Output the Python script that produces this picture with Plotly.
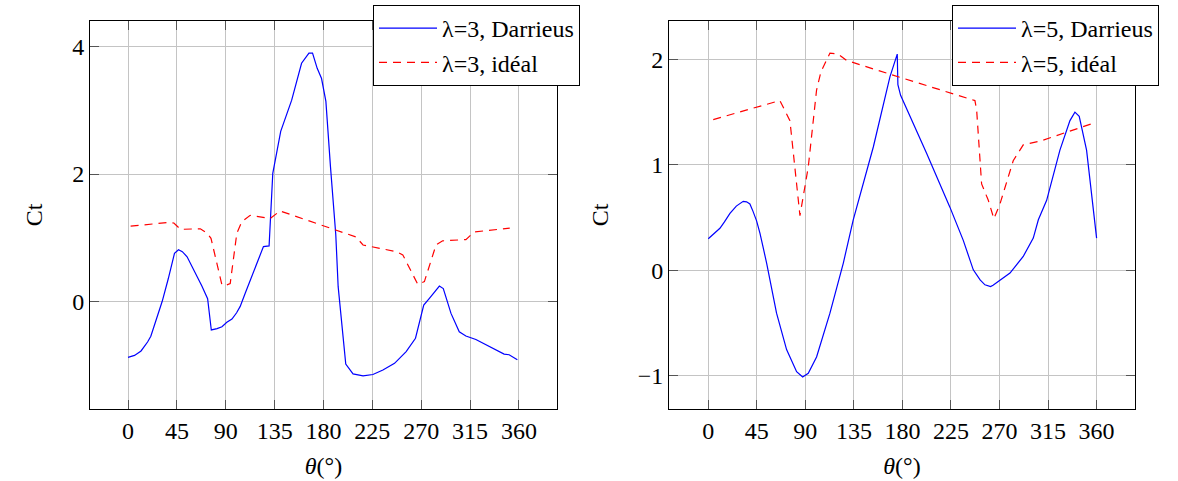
import plotly.graph_objects as go

# ---------------- data ----------------
theta_d3 = [0, 6, 12, 18, 21, 26, 31.5, 37, 42.8, 46.5, 50, 54.4, 59, 63.6, 68, 73.3, 76.7, 82, 86.5,
            91, 95.7, 100, 103.3, 108, 112.5, 118, 124.7, 129.9, 133.3, 140.6, 150.7, 159.8, 166.6,
            169.9, 174.2, 178.2, 182.2, 186.4, 191.3, 193.5, 200.5, 207.2, 216.4, 225.5, 234.7, 245.4,
            256.1, 264.7, 271.4, 272.3, 277.5, 286.7, 290.3, 297.4, 305, 311.1, 320.3, 332.5, 346.3,
            350.9, 358.5]
ct_d3 = [-0.88, -0.85, -0.78, -0.64, -0.55, -0.30, 0.0, 0.35, 0.754, 0.81, 0.78, 0.70, 0.55, 0.39,
         0.24, 0.04, -0.45, -0.43, -0.40, -0.33, -0.28, -0.18, -0.08, 0.13, 0.335, 0.58, 0.86, 0.87,
         2.01, 2.67, 3.16, 3.74, 3.90, 3.90, 3.66, 3.50, 3.14, 2.12, 1.05, 0.23, -0.985, -1.14, -1.17,
         -1.15, -1.08, -0.975, -0.79, -0.58, -0.094, -0.06, 0.047, 0.24, 0.20, -0.19, -0.48, -0.545,
         -0.60, -0.71, -0.83, -0.84, -0.92]

theta_i3 = [2.4, 37.6, 42.2, 48.3, 66.6, 72.7, 76.4, 86.5, 90, 94.1, 100.2, 104.8, 112.5, 130.8, 140,
            210, 216.4, 234.7, 246.9, 253, 266.8, 272.9, 283.6, 289.7, 311.1, 318.8, 351.5]
ct_i3 = [1.18, 1.24, 1.23, 1.13, 1.14, 1.07, 0.99, 0.257, 0.25, 0.28, 1.07, 1.25, 1.35, 1.30, 1.42,
         1.01, 0.885, 0.82, 0.78, 0.73, 0.267, 0.31, 0.885, 0.95, 0.97, 1.09, 1.15]

theta_d5 = [0, 5, 10.8, 15, 20.1, 26, 32.4, 35.5, 38.6, 41.5, 44.8, 47.9, 54.1, 63.3, 72.6, 81.9, 87.5,
            92.7, 100.4, 112.8, 125.2, 134.4, 153, 168.4, 175.2, 175.8, 178.3, 202.4, 224, 236.4,
            245.7, 252, 256.5, 261.7, 264, 268.8, 279.7, 292, 301.3, 306, 313.7, 326, 335.3, 339.9,
            343.9, 350.7, 356.9, 360]
ct_d5 = [0.30, 0.35, 0.40, 0.46, 0.54, 0.61, 0.655, 0.65, 0.63, 0.56, 0.47, 0.354, 0.07, -0.405,
         -0.75, -0.96, -1.01, -0.975, -0.82, -0.405, 0.07, 0.48, 1.17, 1.835, 2.05, 1.76, 1.66, 1.11,
         0.60, 0.285, 0.006, -0.09, -0.136, -0.152, -0.14, -0.104, -0.025, 0.133, 0.307, 0.48, 0.665,
         1.14, 1.42, 1.50, 1.46, 1.14, 0.60, 0.307]

theta_i5 = [4.6, 66.4, 75.7, 80.3, 85, 92.7, 100.4, 104.4, 112.8, 120.5, 128.2, 177.7, 247.2, 248.8,
            253.4, 259.6, 264.8, 270.4, 282.7, 292, 309, 355.4]
ct_i5 = [1.43, 1.61, 1.42, 0.98, 0.52, 0.98, 1.71, 1.88, 2.06, 2.05, 1.99, 1.83, 1.61, 1.52, 0.82,
         0.665, 0.49, 0.63, 1.04, 1.19, 1.23, 1.39]

x_ticks = [0, 45, 90, 135, 180, 225, 270, 315, 360]
y_ticks_left = [0, 2, 4]
y_ticks_right = [-1, 0, 1, 2]

names = ["\u03bb=3, Darrieus", "\u03bb=3, idéal", "\u03bb=5, Darrieus", "\u03bb=5, idéal"]

# ---------------- figure ----------------
FONT = "Liberation Serif"
W, H = 1178, 481
fig = go.Figure()

blue = dict(color="#0000ff", width=1.2)
red = dict(color="#ff0000", width=1.2, dash="8px,6px")

fig.add_trace(go.Scatter(x=theta_d3, y=ct_d3, mode="lines", line=blue, name=names[0],
                         xaxis="x", yaxis="y", legend="legend"))
fig.add_trace(go.Scatter(x=theta_i3, y=ct_i3, mode="lines", line=red, name=names[1],
                         xaxis="x", yaxis="y", legend="legend"))
fig.add_trace(go.Scatter(x=theta_d5, y=ct_d5, mode="lines", line=blue, name=names[2],
                         xaxis="x2", yaxis="y2", legend="legend2"))
fig.add_trace(go.Scatter(x=theta_i5, y=ct_i5, mode="lines", line=red, name=names[3],
                         xaxis="x2", yaxis="y2", legend="legend2"))

ydom = [1 - 409 / H, 1 - 21 / H]
common = dict(showgrid=True, gridcolor="#c4c4c4", gridwidth=1, showline=True, linecolor="black",
              linewidth=1, mirror="allticks", ticks="inside", ticklen=9, tickcolor="#555",
              zeroline=False, tickfont=dict(family=FONT, size=24, color="black"))

xtitle = dict(text="<i>\u03b8</i>(°)", font=dict(family=FONT, size=24, color="black"), standoff=14)
ytitle = dict(text="Ct", font=dict(family=FONT, size=24, color="black"), standoff=22)
legfont = dict(family=FONT, size=24, color="black")

fig.update_layout(
    width=W, height=H, margin=dict(l=0, r=0, t=0, b=0),
    paper_bgcolor="white", plot_bgcolor="white",
    xaxis=dict(domain=[90 / W, 557 / W], range=[-35, 395], tickvals=x_ticks, title=xtitle,
               anchor="y", **common),
    yaxis=dict(domain=ydom, range=[-1.692, 4.404], tickvals=y_ticks_left, title=ytitle,
               anchor="x", **common),
    xaxis2=dict(domain=[669 / W, 1135 / W], range=[-36.4, 395.6], tickvals=x_ticks, title=xtitle,
                anchor="y2", **common),
    yaxis2=dict(domain=ydom, range=[-1.313, 2.364], tickvals=y_ticks_right, title=ytitle,
                anchor="x2", **common),
    legend=dict(x=373 / W, y=1 - 5 / H, xanchor="left", yanchor="top", bgcolor="white",
                bordercolor="black", borderwidth=1, font=legfont, tracegroupgap=0,
                itemwidth=58),
    legend2=dict(x=952 / W, y=1 - 5 / H, xanchor="left", yanchor="top", bgcolor="white",
                 bordercolor="black", borderwidth=1, font=legfont, tracegroupgap=0,
                 itemwidth=58),
    showlegend=True,
)

fig.write_html("out.html", config={"displayModeBar": False},
               post_script="document.body.style.margin='0';document.body.style.padding='0';")
